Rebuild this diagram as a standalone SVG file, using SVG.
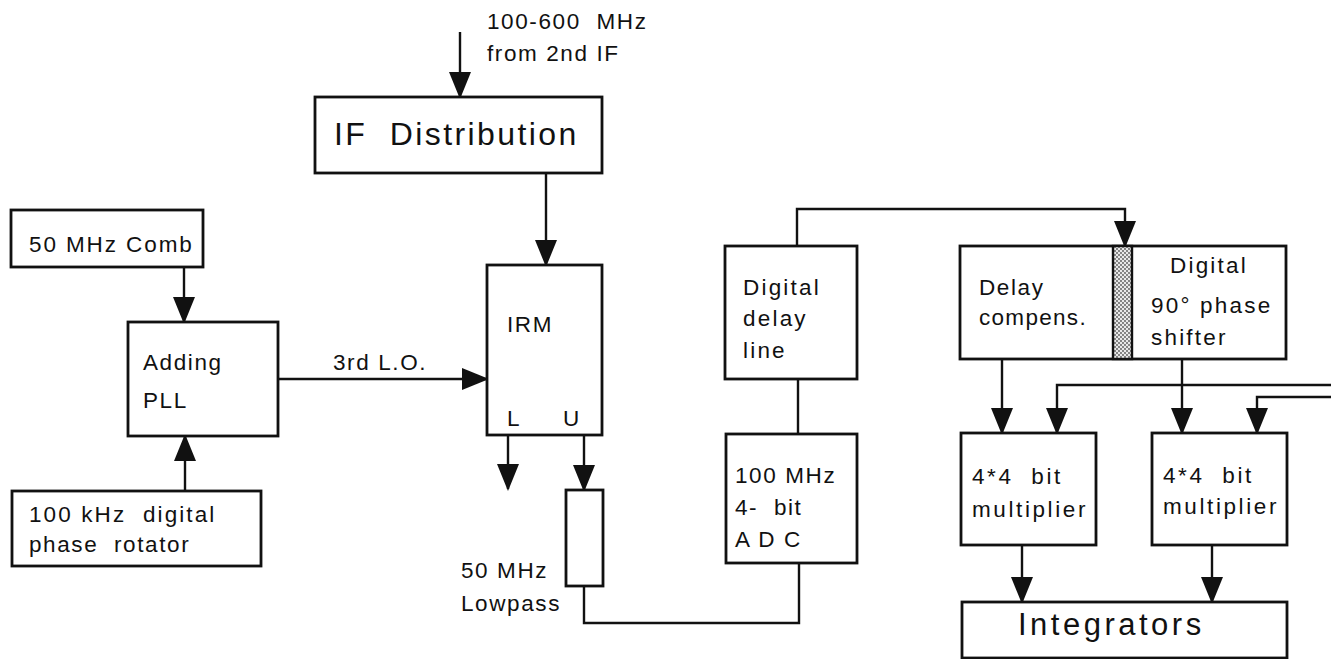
<svg xmlns="http://www.w3.org/2000/svg" width="1331" height="659" viewBox="0 0 1331 659">
  <style>
    .box { fill: #fff; stroke: #111; stroke-width: 2.8; }
    .wire { fill: none; stroke: #111; stroke-width: 2.4; }
    .arrow { fill: none; stroke: #111; stroke-width: 2.4; marker-end: url(#head); }
    text { font-family: "Liberation Sans", Arial, Helvetica, sans-serif; font-size: 22.5px; fill: #111; letter-spacing: 1.6px; }
    .big { font-size: 32px; letter-spacing: 2.4px; }
    .wide { letter-spacing: 2.6px; }
  </style>
  <defs>
    <marker id="head" viewBox="0 0 27 22" refX="25" refY="11" markerWidth="27" markerHeight="22" markerUnits="userSpaceOnUse" orient="auto">
      <path d="M0,0 L27,11 L0,22 Z" fill="#111"/>
    </marker>
    <pattern id="stipple" width="4" height="4" patternUnits="userSpaceOnUse">
      <rect width="4" height="4" fill="#e8e8e8"/>
      <circle cx="1" cy="1" r="0.9" fill="#555"/>
      <circle cx="3" cy="3" r="0.9" fill="#555"/>
    </pattern>
  </defs>
  <rect width="1331" height="659" fill="#fff"/>

  <!-- signal connectors -->
  <g id="connectors">
    <path class="arrow" d="M460,32 V97"/>
    <path class="arrow" d="M546,173 V265"/>
    <path class="arrow" d="M184,267 V322"/>
    <path class="arrow" d="M185,491 V436"/>
    <path class="arrow" d="M278,379 H487"/>
    <path class="arrow" d="M508,435 V489"/>
    <path class="arrow" d="M584,435 V490"/>
    <path class="wire" d="M584,586 V623 H799 V563"/>
    <path class="wire" d="M798,379 V434"/>
    <path class="arrow" d="M797,246 V209 H1125 V246"/>
    <path class="arrow" d="M1002,359 V433"/>
    <path class="arrow" d="M1182,359 V433"/>
    <path class="arrow" d="M1331,385 H1057 V433"/>
    <path class="arrow" d="M1331,397 H1257 V433"/>
    <path class="arrow" d="M1022,545 V602"/>
    <path class="arrow" d="M1212,545 V602"/>
  </g>

  <g id="input-label">
    <text x="487" y="29" xml:space="preserve">100-600  MHz</text>
    <text x="487" y="61">from 2nd IF</text>
  </g>

  <g id="if-distribution">
    <rect class="box" x="315" y="97" width="287" height="76"/>
    <text class="big" x="334" y="145" xml:space="preserve">IF  Distribution</text>
  </g>

  <g id="comb">
    <rect class="box" x="11" y="210" width="192" height="57"/>
    <text x="29" y="252" style="letter-spacing:1.9px">50 MHz Comb</text>
  </g>

  <g id="adding-pll">
    <rect class="box" x="128" y="322" width="150" height="114"/>
    <text x="143" y="370">Adding</text>
    <text x="143" y="408">PLL</text>
  </g>

  <g id="lo-label">
    <text x="333" y="370">3rd L.O.</text>
  </g>

  <g id="phase-rotator">
    <rect class="box" x="12" y="491" width="249" height="75"/>
    <text x="29" y="522" xml:space="preserve" style="letter-spacing:2.1px">100 kHz  digital</text>
    <text x="29" y="552" xml:space="preserve">phase  rotator</text>
  </g>

  <g id="irm">
    <rect class="box" x="487" y="265" width="115" height="170"/>
    <text x="507" y="332">IRM</text>
    <text x="507" y="426">L</text>
    <text x="563" y="426">U</text>
  </g>

  <g id="lowpass">
    <rect class="box" x="566" y="490" width="37" height="96"/>
    <text x="461" y="578">50 MHz</text>
    <text x="461" y="611">Lowpass</text>
  </g>

  <g id="delay-line">
    <rect class="box" x="725" y="246" width="132" height="133"/>
    <text x="743" y="295" style="letter-spacing:2.2px">Digital</text>
    <text x="743" y="326" style="letter-spacing:2.2px">delay</text>
    <text x="743" y="358" style="letter-spacing:2.2px">line</text>
  </g>

  <g id="adc">
    <rect class="box" x="726" y="434" width="131" height="129"/>
    <text x="735" y="483">100 MHz</text>
    <text x="735" y="515" xml:space="preserve">4-  bit</text>
    <text x="735" y="547">A D C</text>
  </g>

  <g id="compensation-shifter">
    <rect class="box" x="960" y="246" width="326" height="113"/>
    <rect x="1113" y="246" width="19" height="113" fill="url(#stipple)" stroke="#111" stroke-width="2.4"/>
    <text x="979" y="295">Delay</text>
    <text x="979" y="325" style="letter-spacing:1.3px">compens.</text>
    <text x="1170" y="273" style="letter-spacing:2.2px">Digital</text>
    <text x="1151" y="313" style="letter-spacing:2.2px">90° phase</text>
    <text x="1151" y="345" style="letter-spacing:2.2px">shifter</text>
  </g>

  <g id="multiplier-1">
    <rect class="box" x="961" y="433" width="135" height="112"/>
    <text class="wide" x="972" y="484" xml:space="preserve">4*4  bit</text>
    <text class="wide" x="972" y="517">multiplier</text>
  </g>

  <g id="multiplier-2">
    <rect class="box" x="1152" y="433" width="135" height="112"/>
    <text class="wide" x="1163" y="483" xml:space="preserve">4*4  bit</text>
    <text class="wide" x="1163" y="514">multiplier</text>
  </g>

  <g id="integrators">
    <rect class="box" x="962" y="602" width="325" height="56"/>
    <text x="1018" y="635" style="font-size:31px;letter-spacing:3.5px">Integrators</text>
  </g>
</svg>
